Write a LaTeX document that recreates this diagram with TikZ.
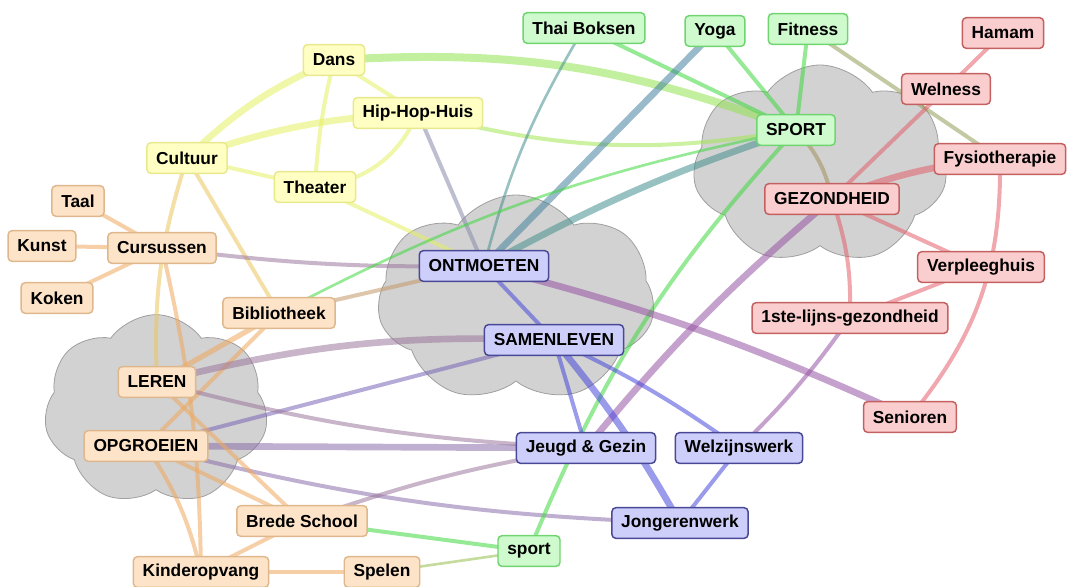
\documentclass[tikz,border=0pt]{standalone}
\usepackage{fontspec}
\setmainfont{Liberation Sans}
\usetikzlibrary{shapes.symbols}
\definecolor{cuFill}{RGB}{255,255,196}
\definecolor{cuLine}{RGB}{232,232,140}
\definecolor{leFill}{RGB}{253,228,200}
\definecolor{leLine}{RGB}{222,184,140}
\definecolor{spFill}{RGB}{206,250,206}
\definecolor{spLine}{RGB}{112,212,112}
\definecolor{gzFill}{RGB}{250,206,206}
\definecolor{gzLine}{RGB}{196,96,96}
\definecolor{saFill}{RGB}{206,206,250}
\definecolor{saLine}{RGB}{72,72,150}
\definecolor{eY}{RGB}{228,240,96}
\definecolor{eO}{RGB}{240,168,92}
\definecolor{eG}{RGB}{64,216,64}
\definecolor{eR}{RGB}{228,96,108}
\definecolor{eB}{RGB}{72,72,220}
\pgfdeclarelayer{fore}
\pgfsetlayers{main,fore}

\begin{document}
\begin{tikzpicture}[x=0.75pt,y=-0.75pt,
    blok/.style={rounded corners=3pt,line width=1.1pt,minimum height=23pt,inner xsep=7pt,
        font=\bfseries\fontsize{13}{15}\selectfont},
    cul/.style={blok,draw=cuLine,fill=cuFill},
    ler/.style={blok,draw=leLine,fill=leFill},
    spo/.style={blok,draw=spLine,fill=spFill},
    gez/.style={blok,draw=gzLine,fill=gzFill},
    sam/.style={blok,draw=saLine,fill=saFill},
    link/.style={draw=#1,line width=3pt,opacity=0.55,line cap=round},
    wolk/.style={cloud,cloud puffs=7,cloud puff arc=110,draw=gray!75,fill=gray!35,line width=0.6pt}]
    \useasboundingbox (0,0) rectangle (1071,586);

    \begin{pgfonlayer}{fore}
        % cultuur
        \node[cul] (dans) at (334,60) {Dans};
        \node[cul] (hiphop) at (418,113) {Hip-Hop-Huis};
        \node[cul] (cultuur) at (187,158) {Cultuur};
        \node[cul] (theater) at (315,187) {Theater};
        % leren / opgroeien
        \node[ler] (taal) at (78,201) {Taal};
        \node[ler] (kunst) at (42,246) {Kunst};
        \node[ler] (cursussen) at (162,248) {Cursussen};
        \node[ler] (koken) at (57,298) {Koken};
        \node[ler] (biblio) at (279,313) {Bibliotheek};
        \node[ler] (leren) at (157,382) {LEREN};
        \node[ler] (opgroeien) at (146,446) {OPGROEIEN};
        \node[ler] (brede) at (302,521) {Brede School};
        \node[ler] (kinder) at (201,572) {Kinderopvang};
        \node[ler] (spelen) at (382,572) {Spelen};
        % sport
        \node[spo] (thai) at (584,28) {Thai Boksen};
        \node[spo] (yoga) at (715,31) {Yoga};
        \node[spo] (fitness) at (808,29) {Fitness};
        \node[spo] (sport) at (796,130) {SPORT};
        \node[spo] (sportk) at (529,551) {sport};
        % gezondheid
        \node[gez] (hamam) at (1003,33) {Hamam};
        \node[gez] (welness) at (946,89) {Welness};
        \node[gez] (fysio) at (1000,159) {Fysiotherapie};
        \node[gez] (gezond) at (832,199) {GEZONDHEID};
        \node[gez] (verpleeg) at (981,267) {Verpleeghuis};
        \node[gez] (eerste) at (850,318) {1ste-lijns-gezondheid};
        \node[gez] (senioren) at (910,417) {Senioren};
        % samenleven
        \node[sam] (ontmoet) at (484,266) {ONTMOETEN};
        \node[sam] (samen) at (554,340) {SAMENLEVEN};
        \node[sam] (jeugd) at (586,448) {Jeugd \& Gezin};
        \node[sam] (welzijn) at (739,448) {Welzijnswerk};
        \node[sam] (jongeren) at (680,523) {Jongerenwerk};
    \end{pgfonlayer}

    % wolken
    \node[wolk,minimum width=168pt,minimum height=143pt] (wolkL) at (156,410) {};
    \node[wolk,minimum width=208pt,minimum height=156pt] (wolkM) at (516,299) {};
    \node[wolk,minimum width=191pt,minimum height=150pt] (wolkR) at (820,165) {};

    % cultuur
    \draw[link=eY,line width=5pt] (dans.center) to[bend right=10] (cultuur.center);
    \draw[link=eY] (dans.center) -- (hiphop.center);
    \draw[link=eY] (dans.center) to[bend right=5] (theater.center);
    \draw[link=eY!50!eG,line width=6pt] (dans.center) to[bend left=12] (sport.center);
    \draw[link=eY,line width=5pt] (cultuur.center) to[bend left=8] (hiphop.center);
    \draw[link=eY] (cultuur.center) -- (theater.center);
    \draw[link=eY] (theater.center) to[bend right=30] (hiphop.center);
    \draw[link=eY!60!eG] (hiphop.center) to[bend right=12] (sport.center);
    \draw[link=eY!40!eB] (hiphop.center) -- (ontmoet.center);
    \draw[link=eY] (theater.center) -- (ontmoet.center);
    \draw[link=eY!40!eO] (cultuur.center) to[bend right=10] (leren.center);
    \draw[link=eY!40!eO] (cultuur.center) -- (biblio.center);

    % leren en opgroeien
    \draw[link=eO] (cursussen.center) -- (taal.center);
    \draw[link=eO] (cursussen.center) -- (kunst.center);
    \draw[link=eO] (cursussen.center) -- (koken.center);
    \draw[link=eO!50!eB] (cursussen.center) to[bend right=4] (ontmoet.center);
    \draw[link=eO] (cursussen.center) to[bend left=6] (kinder.center);
    \draw[link=eO!60!gray] (biblio.center) -- (ontmoet.center);
    \draw[link=eO,line width=4pt] (leren.center) -- (biblio.center);
    \draw[link=eO] (opgroeien.center) -- (biblio.center);
    \draw[link=eO!50!eB,line width=5pt] (leren.center) to[bend left=8] (samen.center);
    \draw[link=eO!30!eB] (opgroeien.center) -- (samen.center);
    \draw[link=eO!50!eB] (leren.center) to[bend right=6] (jeugd.center);
    \draw[link=eO!40!eB,line width=5pt] (opgroeien.center) -- (jeugd.center);
    \draw[link=eO!40!eB] (opgroeien.center) to[bend right=6] (jongeren.center);
    \draw[link=eO] (leren.center) -- (brede.center);
    \draw[link=eO] (opgroeien.center) -- (brede.center);
    \draw[link=eO!50!eB] (brede.center) to[bend left=5] (jeugd.center);
    \draw[link=eO] (opgroeien.center) to[bend left=10] (kinder.center);
    \draw[link=eO] (kinder.center) -- (brede.center);
    \draw[link=eO] (kinder.center) -- (spelen.center);
    \draw[link=eO!50!eG,line width=2pt] (spelen.center) -- (sportk.center);
    \draw[link=eG] (brede.center) -- (sportk.center);

    % sport
    \draw[link=eG] (thai.center) -- (sport.center);
    \draw[link=eG!50!eB,line width=2pt] (thai.center) to[bend right=8] (ontmoet.center);
    \draw[link=eG] (yoga.center) -- (sport.center);
    \draw[link=eG!40!eB,line width=5pt] (yoga.center) -- (ontmoet.center);
    \draw[link=eG] (fitness.center) -- (sport.center);
    \draw[link=eG!50!eR] (fitness.center) -- (fysio.center);
    \draw[link=eG!50!eB,line width=5pt] (sport.center) to[bend right=5] (ontmoet.center);
    \draw[link=eG,line width=2pt] (sport.center) to[bend right=8] (biblio.center);
    \draw[link=eG] (sport.center) to[bend right=10] (sportk.center);
    \draw[link=eG!40!eR] (sport.center) to[bend left=15] (gezond.center);

    % gezondheid
    \draw[link=eR] (hamam.center) -- (welness.center);
    \draw[link=eR] (welness.center) -- (gezond.center);
    \draw[link=eR,line width=5pt] (gezond.center) to[bend left=8] (fysio.center);
    \draw[link=eR] (gezond.center) -- (verpleeg.center);
    \draw[link=eR] (gezond.center) to[bend left=10] (eerste.center);
    \draw[link=eR!50!eB,line width=5pt] (gezond.center) to[bend right=5] (jeugd.center);
    \draw[link=eR] (fysio.center) to[bend left=20] (senioren.center);
    \draw[link=eR] (verpleeg.center) -- (eerste.center);
    \draw[link=eR!50!eB] (eerste.center) to[bend left=5] (welzijn.center);
    \draw[link=eB!50!eR,line width=5pt] (ontmoet.center) to[bend left=5] (senioren.center);

    % samenleven
    \draw[link=eB] (ontmoet.center) -- (samen.center);
    \draw[link=eB] (samen.center) -- (jeugd.center);
    \draw[link=eB,line width=5pt] (samen.center) to[bend left=5] (jongeren.center);
    \draw[link=eB] (samen.center) to[bend left=5] (welzijn.center);
    \draw[link=eB] (welzijn.center) -- (jongeren.center);
\end{tikzpicture}
\end{document}
